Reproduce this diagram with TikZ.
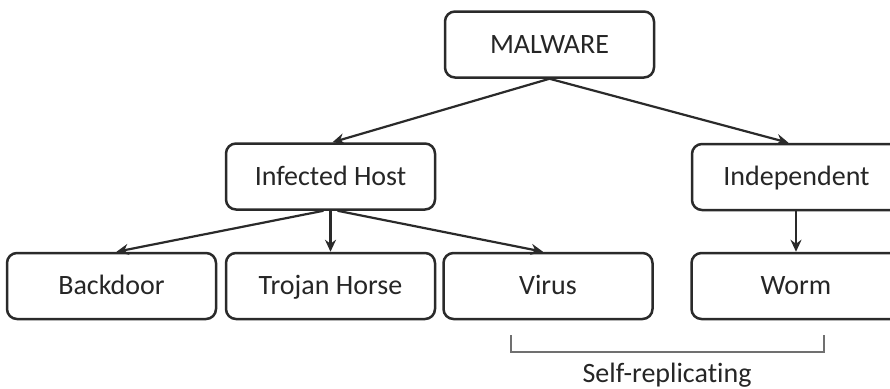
\documentclass[tikz,border=0pt]{standalone}
\usepackage{fontspec}
\setmainfont[Ligatures=NoCommon]{Carlito}
\usetikzlibrary{arrows.meta}
\definecolor{boxline}{HTML}{2A2A2A}
\definecolor{txt}{HTML}{262626}
\definecolor{brk}{HTML}{707070}
\tikzset{
  lbl/.style={text=txt, font=\fontsize{28}{32}\selectfont, text height=18pt, text depth=1pt},
  box/.style={lbl, draw=boxline, line width=2.5pt, rounded corners=10pt, minimum width=209pt, minimum height=66pt, inner sep=0pt},
  link/.style={draw=boxline, line width=2.2pt, -{Stealth[length=12pt,width=11pt,inset=4pt]}},
}
\begin{document}
\begin{tikzpicture}[x=1pt,y=-1pt]
\clip (0,0) rectangle (890,388);
\fill[white] (0,0) rectangle (890,388);
\node[box] (mal) at (549.5,44.5) {MALWARE};
\node[box] (inf) at (330.5,176.5) {Infected Host};
\node[box] (ind) at (796.5,177) {Independent};
\node[box] (bd) at (111.5,286) {Backdoor};
\node[box] (tro) at (330.5,286) {Trojan Horse};
\node[box] (vir) at (548,286) {Virus};
\node[box] (wor) at (796,286) {Worm};
\draw[link] (mal.south) -- ([xshift=2pt]inf.north);
\draw[link] (mal.south) -- ([xshift=-8pt]ind.north);
\draw[link] ([xshift=-7pt]inf.south) -- ([xshift=5pt]bd.north);
\draw[link] (inf.south) -- (tro.north);
\draw[link] ([xshift=7pt]inf.south) -- ([xshift=-5pt]vir.north);
\draw[link] (wor.north |- ind.south) -- (wor.north);
\coordinate (b1) at (511,335);
\coordinate (b2) at (824,335);
\draw[brk, line width=1.3pt] (b1) -- ++(0,17) -| (b2);
\node[lbl] (sr) at (667,374) {Self-replicating};
\end{tikzpicture}
\end{document}
